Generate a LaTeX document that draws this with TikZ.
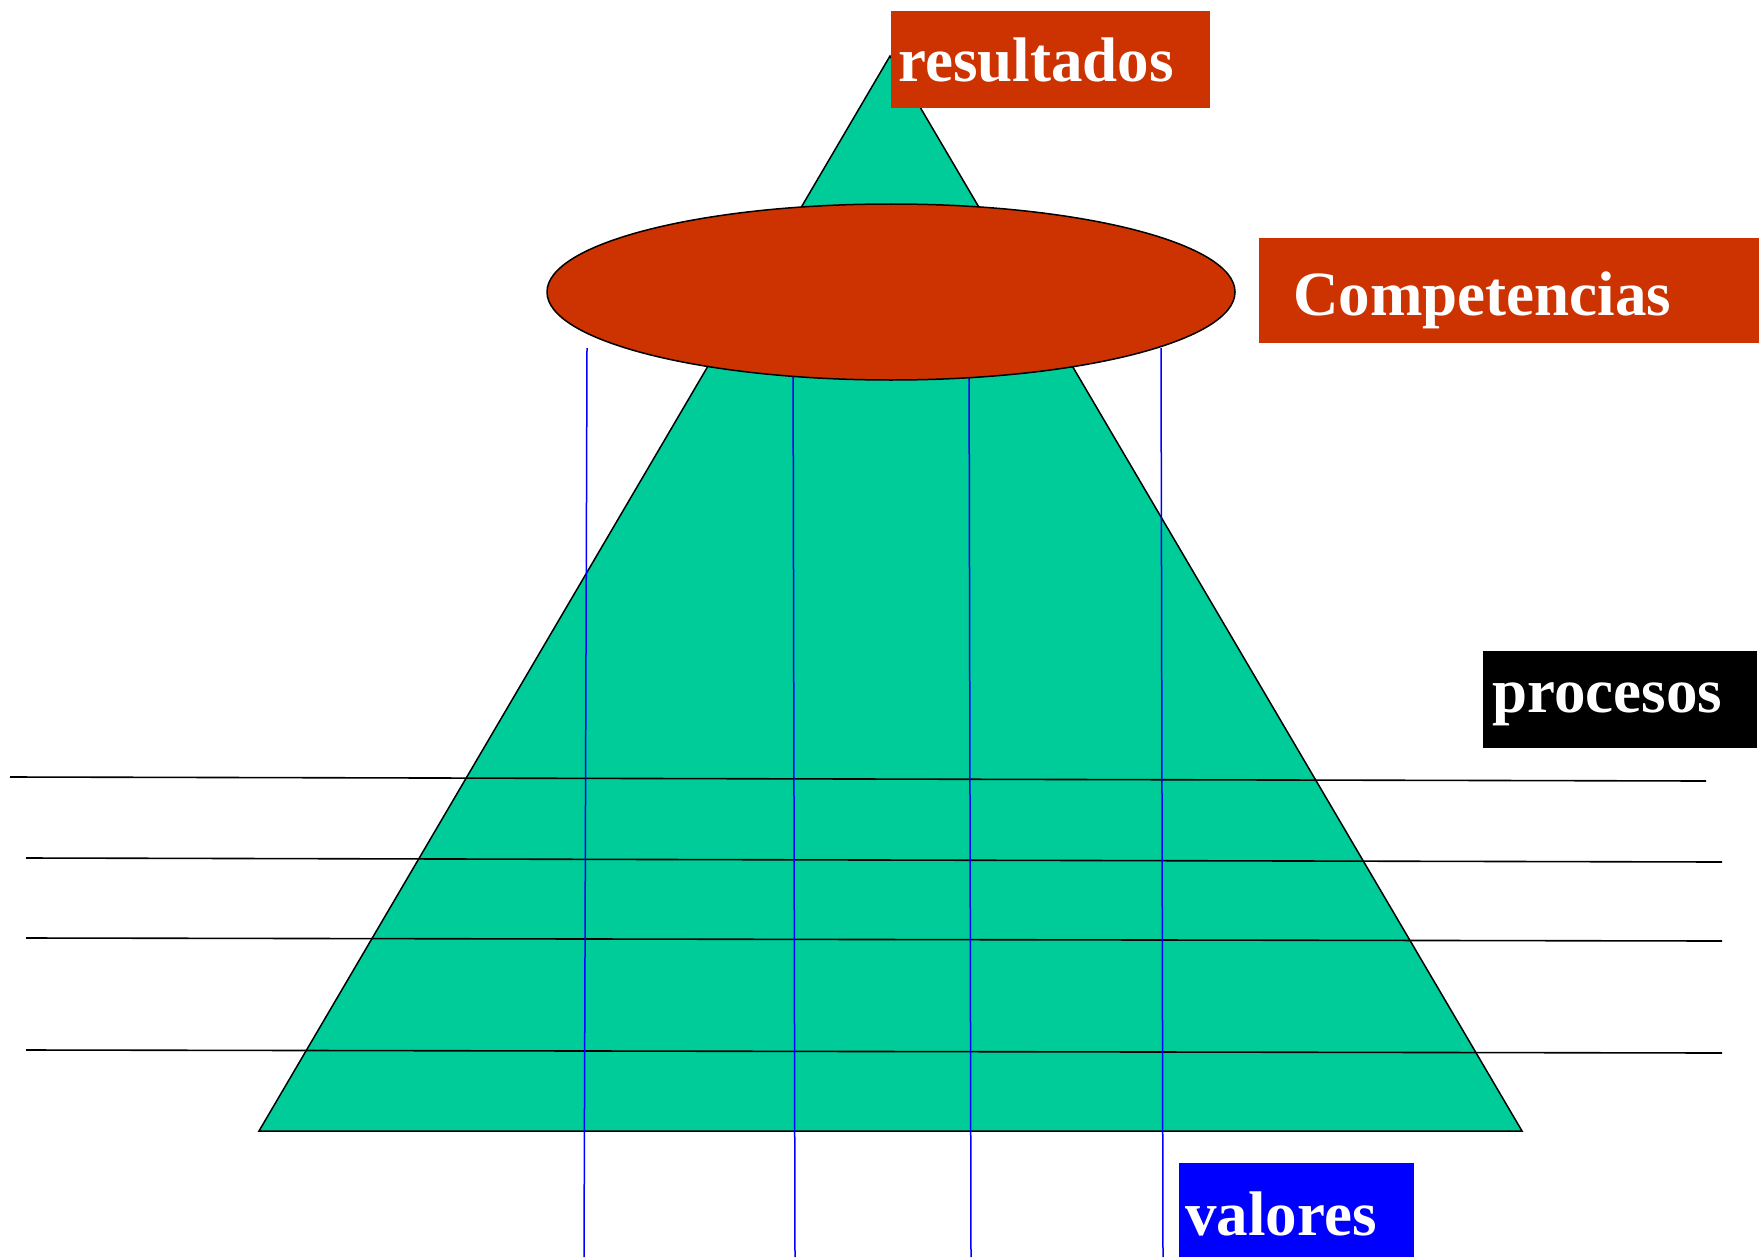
\documentclass[tikz,border=0pt]{standalone}
\usepackage{fontspec}
\setmainfont{Liberation Serif}
\usepackage{xcolor}
\usepackage{tikz}

\definecolor{verde}{HTML}{00CC99}
\definecolor{rojizo}{HTML}{CC3300}

\begin{document}
\begin{tikzpicture}[x=0.5pt, y=-0.5pt,
    etiqueta/.style={anchor=base west, text=white, align=left, inner ysep=0pt,
      font=\fontsize{31.5}{36}\selectfont\bfseries}]
            \path[use as bounding box] (0,0) rectangle (1759,1257);
            % piramide
            \coordinate (cima) at (890,56);
            \coordinate (izq) at (259,1131);
            \coordinate (der) at (1522,1131);
            \filldraw[fill=verde, draw=black, line width=0.75pt] (cima) -- (izq) -- (der) -- cycle;
            % niveles
            \foreach \xa/\ya/\xb/\yb in {10/777/1706/781, 26/858/1722/862, 26/938/1722/941, 26/1050/1722/1053}
                \draw[line width=0.8pt] (\xa,\ya) -- (\xb,\yb);
            \foreach \xa/\xb in {587/584, 793/795, 969/971, 1161/1163}
                \draw[blue, line width=0.75pt] (\xa,348) -- (\xb,1257);
            \filldraw[fill=rojizo, draw=black, line width=0.75pt] (891,292) ellipse [x radius=344, y radius=88];
            \node[etiqueta, fill=rojizo, inner xsep=3.5pt, text width=152.5pt, text height=35.5pt, text depth=13pt] (resultados) at (891,82) {resultados};
            \node[etiqueta, fill=rojizo, inner xsep=17pt, text width=216pt, text height=38.5pt, text depth=14pt] (competencias) at (1259,315) {Competencias};
            \node[etiqueta, fill=black, inner xsep=4.5pt, text width=128pt, text height=30.5pt, text depth=18pt] (procesos) at (1483,712) {procesos};
            \node[etiqueta, fill=blue, inner xsep=3pt, text width=111.5pt, text height=36pt, text depth=11pt] (valores) at (1179,1235) {valores};
        \end{tikzpicture}
\end{document}
